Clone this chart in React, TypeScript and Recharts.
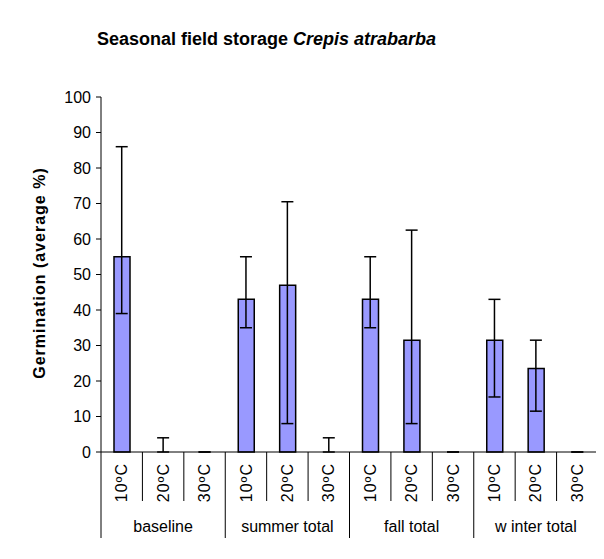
import { ComposedChart, Bar, Scatter, XAxis, YAxis, ErrorBar } from "recharts";

const groups = ["baseline", "summer total", "fall total", "w inter total"];
const temps = ["10ºC", "20ºC", "30ºC"];
const means = [55, 0, 0, 43, 47, 0, 43, 31.5, 0, 31.5, 23.5, 0];
const lower = [39, 0, 0, 35, 8, 0, 35, 8, 0, 15.5, 11.5, 0];
const upper = [86, 4, 0, 55, 70.5, 4, 55, 62.5, 0, 43, 31.5, 0];
const yTicks = [0, 10, 20, 30, 40, 50, 60, 70, 80, 90, 100];

const W = 604;
const H = 559;
const MARGIN = { top: 97, right: 6, left: 0, bottom: 0 };
const Y_AXIS_W = 101;
const X_AXIS_H = 107;
const PLOT_W = W - MARGIN.left - MARGIN.right - Y_AXIS_W;
const FONT = "'Liberation Sans', Arial, sans-serif";

const data = means.map((m, i) => ({
  name: groups[Math.floor(i / 3)] + " " + temps[i % 3],
  temp: temps[i % 3],
  value: m,
  err: [m - lower[i], upper[i] - m],
}));

const CategoryTick = (props: any) => {
  const { x, y, index } = props;
  const band = PLOT_W / data.length;
  const left = x - band / 2;
  const groupStart = index % 3 === 0;
  const label = data[index] ? data[index].temp : "";
  return (
    <g>
      <line x1={left} y1={y} x2={left} y2={y + (groupStart ? 86 : 49)} stroke="#000" strokeWidth={1} />
      {index === data.length - 1 && (
        <line x1={x + band / 2} y1={y} x2={x + band / 2} y2={y + 86} stroke="#000" strokeWidth={1} />
      )}
      <text
        transform={`translate(${x}, ${y + 11}) rotate(-90)`}
        textAnchor="end"
        dy="0.35em"
        fontSize={16}
        letterSpacing={1}
        fontFamily={FONT}
        fill="#000"
      >
        {label}
      </text>
      {index % 3 === 1 && (
        <text x={x} y={y + 74} dy="0.35em" textAnchor="middle" fontSize={16} fontFamily={FONT} fill="#000">
          {groups[Math.floor(index / 3)]}
        </text>
      )}
    </g>
  );
};

export default function App() {
  return (
    <div style={{ position: "relative", width: W, height: H, margin: -8, overflow: "hidden", background: "#fff" }}>
      {/* chart frame */}
      <div style={{ position: "absolute", left: 5, top: 6, width: W, height: 2, background: "#222", zIndex: 3 }} />
      <div style={{ position: "absolute", left: 5, top: 6, width: 2, height: 552, background: "#222", zIndex: 3 }} />
      <div style={{ position: "absolute", left: 5, top: 556, width: W, height: 2, background: "#888", zIndex: 3 }} />
      <div
        style={{
          position: "absolute",
          left: 0,
          width: 533,
          top: 29,
          textAlign: "center",
          fontFamily: FONT,
          fontWeight: "bold",
          fontSize: 18,
        }}
      >
        Seasonal field storage <i>Crepis atrabarba</i>
      </div>
      <div
        style={{
          position: "absolute",
          left: 40,
          top: 273,
          transform: "translate(-50%, -50%) rotate(-90deg)",
          whiteSpace: "nowrap",
          fontFamily: FONT,
          fontWeight: "bold",
          fontSize: 16,
          letterSpacing: 1,
        }}
      >
        Germination (average %)
      </div>
      <div style={{ position: "absolute", left: 0, top: 0 }}>
        <ComposedChart width={W} height={H} data={data} margin={MARGIN} barCategoryGap={0}>
          <XAxis
            dataKey="name"
            interval={0}
            tickLine={false}
            tickSize={0}
            tickMargin={0}
            stroke="#000"
            tick={<CategoryTick />}
            height={X_AXIS_H}
          />
          <YAxis
            width={Y_AXIS_W}
            domain={[0, 100]}
            ticks={yTicks}
            interval={0}
            tickSize={5}
            tickMargin={5}
            stroke="#000"
            tick={{ fill: "#000", fontSize: 16, fontFamily: FONT }}
          />
          <Bar dataKey="value" fill="#9999FF" stroke="#000" strokeWidth={1.5} barSize={16} isAnimationActive={false} />
          <Scatter dataKey="value" shape={() => <g />} isAnimationActive={false}>
            <ErrorBar dataKey="err" direction="y" width={6} stroke="#000" strokeWidth={1.5} isAnimationActive={false} />
          </Scatter>
        </ComposedChart>
      </div>
    </div>
  );
}
